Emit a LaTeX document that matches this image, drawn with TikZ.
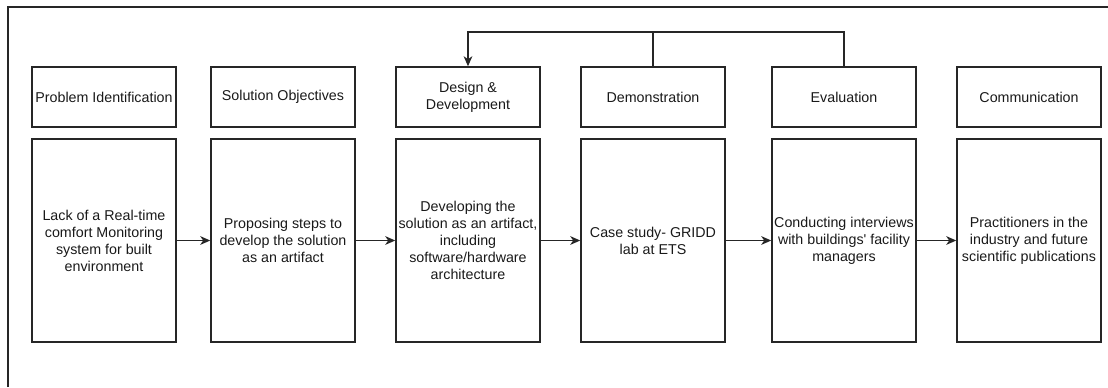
\documentclass[tikz,border=0pt]{standalone}
\usepackage{fontspec}
\setmainfont{Liberation Sans}
\usetikzlibrary{arrows.meta}
\tikzset{
  ln/.style={draw=black!85, line width=1.1pt},
  head/.style={ln, rectangle, minimum width=108pt, minimum height=45pt, inner sep=1pt, align=center, text=black!90, font=\fontsize{10.7}{12.8}\selectfont},
  body/.style={ln, rectangle, minimum width=108pt, minimum height=152.25pt, inner sep=1pt, align=center, text=black!90, font=\fontsize{10.7}{12.8}\selectfont},
  arr/.style={ln, -{Stealth[length=7.5pt,width=6.5pt,inset=2.2pt]}},
}
\begin{document}
\begin{tikzpicture}[x=0.75pt, y=-0.75pt]
\useasboundingbox (0,0) rectangle (1108,387);
% outer frame (open at right and bottom)
\coordinate (fbl) at (8,387);
\coordinate (ftl) at (8,7);
\coordinate (ftr) at (1108,7);
\draw[ln] (fbl) -- (ftl) -- (ftr);
% header boxes
\node[head] (h1) at (104,97) {Problem Identification};
\node[head] (h2) at (283,97) {Solution Objectives};
\node[head] (h3) at (468,97) {Design \&\\Development};
\node[head] (h4) at (653,97) {Demonstration};
\node[head] (h5) at (844,97) {Evaluation};
\node[head] (h6) at (1029,97) {Communication};
% body boxes
\node[body] (b1) at (104,240.5) {Lack of a Real-time\\comfort Monitoring\\system for built\\environment};
\node[body] (b2) at (283,240.5) {Proposing steps to\\develop the solution\\as an artifact};
\node[body] (b3) at (468,240.5) {Developing the\\solution as an artifact,\\including\\software/hardware\\architecture};
\node[body] (b4) at (653,240.5) {Case study- GRIDD\\lab at ETS};
\node[body] (b5) at (844,240.5) {Conducting interviews\\with buildings\textquotesingle{} facility\\managers};
\node[body] (b6) at (1029,240.5) {Practitioners in the\\industry and future\\scientific publications};
% flow arrows
\draw[arr] (b1) -- (b2);
\draw[arr] (b2) -- (b3);
\draw[arr] (b3) -- (b4);
\draw[arr] (b4) -- (b5);
\draw[arr] (b5) -- (b6);
% feedback loop
\coordinate (fb5) at (844,32);
\coordinate (fb4) at (653,32);
\coordinate (fb3) at (468,32);
\draw[arr] (h5.north) -- (fb5) -- (fb3) -- (h3.north);
\draw[ln] (h4.north) -- (fb4);
\end{tikzpicture}
\end{document}
